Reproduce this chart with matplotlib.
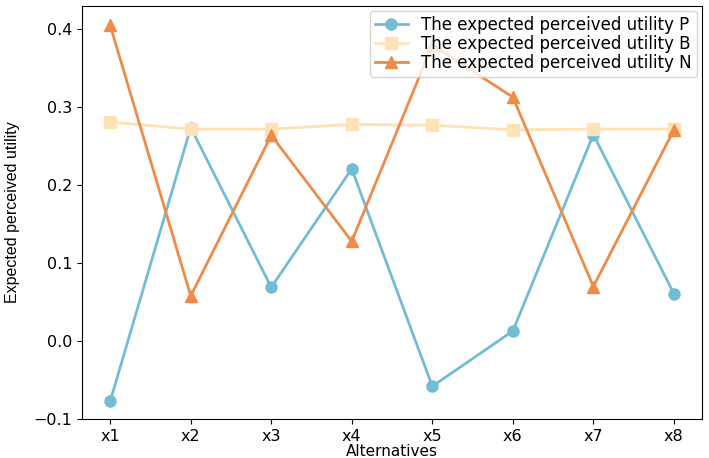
import matplotlib
matplotlib.use("Agg")
from matplotlib import pyplot as plt

alternatives = ["x1", "x2", "x3", "x4", "x5", "x6", "x7", "x8"]
utility_p = [-0.077, 0.274, 0.069, 0.221, -0.058, 0.013, 0.265, 0.061]
utility_b = [0.281, 0.272, 0.272, 0.278, 0.277, 0.271, 0.272, 0.272]
utility_n = [0.405, 0.058, 0.264, 0.128, 0.380, 0.313, 0.070, 0.271]

fig = plt.figure(figsize=(7.09, 4.58), dpi=100)
ax = fig.add_axes([0.1157, 0.085, 0.8745, 0.902])

ax.plot(alternatives, utility_p, color="#72bcd5", marker="o", markersize=8,
        linewidth=2, label="The expected perceived utility P")
ax.plot(alternatives, utility_b, color="#fde2b5", marker="s", markersize=8,
        linewidth=2, label="The expected perceived utility B")
ax.plot(alternatives, utility_n, color="#f08b47", marker="^", markersize=9,
        linewidth=2, label="The expected perceived utility N")

ax.set_ylim(-0.1, 0.43)
ax.set_yticks([-0.1, 0.0, 0.1, 0.2, 0.3, 0.4])
ax.tick_params(labelsize=11.5)
ax.set_xlabel("Alternatives", fontsize=11, labelpad=0)
ax.set_ylabel("Expected perceived utility", fontsize=11.5, fontstretch="condensed",
              family=["Liberation Sans Narrow", "Liberation Sans", "DejaVu Sans"],
              labelpad=10)
ax.legend(loc="upper right", fontsize=12, borderaxespad=0.3,
          handlelength=2.0, labelspacing=0.05, borderpad=0.3)

fig.savefig("out.png", dpi=100)
